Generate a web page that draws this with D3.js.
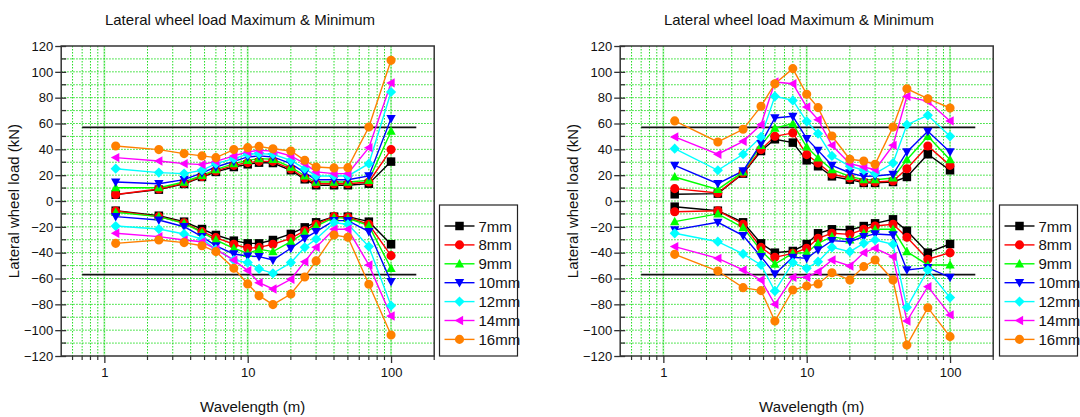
<!DOCTYPE html>
<html><head><meta charset="utf-8">
<script src="https://cdn.jsdelivr.net/npm/d3@7"></script>
<style>body{margin:0;background:#fff;} svg{display:block;font-family:Arial,"Liberation Sans",sans-serif;}</style>
</head><body>
<svg id="c" width="1080" height="417"></svg>
<script>
const wavelengths = [1.2, 2.4, 3.6, 4.8, 6, 8, 10, 12, 15, 20, 25, 30, 40, 50, 70, 100];
const seriesNames = ["7mm", "8mm", "9mm", "10mm", "12mm", "14mm", "16mm"];
const yTicks = [120, 100, 80, 60, 40, 20, 0, -20, -40, -60, -80, -100, -120];
const xTickLabels = [1, 10, 100];
const limitValue = 57;
const limitRange = [0.7, 150];
const chartTitle = "Lateral wheel load Maximum & Minimum";
const xTitle = "Wavelength (m)";
const yTitle = "Lateral wheel load (kN)";

const leftMax = [
  [4.9, 8.8, 13.2, 18.6, 22.5, 26.3, 28.4, 29.7, 29.4, 23.8, 16.8, 12.2, 12.2, 12.2, 13.4, 30.5],
  [5.0, 9.3, 13.7, 19.0, 23.3, 27.6, 29.7, 30.7, 30.7, 24.8, 17.8, 13.4, 13.4, 13.4, 14.7, 39.8],
  [10.3, 10.3, 14.7, 19.9, 24.3, 28.9, 31.5, 32.8, 32.3, 26.3, 19.4, 14.7, 14.7, 14.7, 16.0, 54.0],
  [14.7, 13.4, 16.5, 21.7, 26.3, 30.7, 34.1, 34.9, 34.1, 28.9, 22.0, 16.5, 16.5, 16.5, 19.4, 63.8],
  [25.0, 22.0, 21.2, 23.8, 28.9, 32.8, 36.2, 36.7, 36.2, 31.5, 25.0, 19.4, 19.4, 19.4, 28.9, 84.4],
  [33.6, 31.0, 28.9, 28.2, 30.7, 34.9, 38.0, 39.2, 38.7, 34.9, 28.9, 22.5, 21.2, 21.2, 41.3, 91.4],
  [42.6, 39.8, 36.7, 34.9, 33.6, 39.8, 41.3, 42.3, 40.5, 38.7, 31.5, 26.3, 25.6, 25.8, 57.3, 108.9]
];
const leftMin = [
  [-7.5, -11.4, -16.0, -21.7, -26.3, -30.7, -32.8, -32.8, -30.2, -25.5, -20.4, -16.5, -12.1, -12.1, -16.0, -33.5],
  [-7.7, -12.1, -16.8, -23.7, -28.4, -33.5, -36.6, -35.9, -33.5, -28.9, -23.0, -18.0, -12.1, -12.6, -18.0, -42.3],
  [-8.8, -12.1, -17.3, -24.3, -30.2, -36.6, -40.5, -37.4, -39.2, -31.5, -24.5, -19.4, -12.9, -13.4, -19.1, -52.1],
  [-12.1, -14.7, -19.9, -27.6, -34.8, -41.0, -42.6, -43.1, -45.7, -36.6, -28.9, -23.7, -15.2, -15.2, -23.7, -62.4],
  [-19.4, -21.7, -25.5, -29.4, -37.4, -45.7, -47.7, -52.6, -56.0, -47.7, -35.9, -29.4, -16.8, -18.0, -35.3, -81.0],
  [-25.0, -27.6, -30.2, -31.5, -37.4, -45.7, -53.9, -63.2, -68.1, -60.6, -47.0, -35.9, -21.9, -21.9, -49.5, -89.0],
  [-32.8, -30.2, -32.2, -34.6, -39.2, -52.1, -64.2, -73.3, -80.2, -72.0, -58.8, -46.4, -26.3, -28.1, -64.5, -103.7]
];
const rightMax = [
  [5.2, 5.7, 21.2, 38.7, 47.8, 45.2, 31.5, 26.9, 19.1, 16.5, 14.0, 14.0, 14.7, 18.6, 36.2, 23.8],
  [9.6, 6.2, 21.7, 39.8, 50.1, 52.7, 35.9, 29.4, 20.7, 17.8, 14.7, 14.7, 15.5, 25.0, 42.6, 27.6],
  [18.6, 9.0, 22.5, 43.1, 56.5, 59.9, 41.8, 33.3, 24.3, 19.1, 16.5, 16.5, 17.8, 32.0, 50.1, 32.0],
  [27.6, 13.4, 23.3, 44.4, 64.3, 65.6, 48.3, 39.2, 27.6, 21.7, 19.1, 19.4, 20.7, 38.0, 54.0, 38.0],
  [40.5, 23.8, 36.2, 49.6, 81.0, 77.9, 61.7, 52.1, 34.9, 26.9, 23.8, 21.2, 29.4, 59.1, 66.3, 50.1],
  [49.6, 36.2, 46.2, 59.1, 92.1, 90.8, 72.8, 63.0, 43.1, 28.9, 26.3, 24.3, 43.1, 81.0, 77.2, 62.0],
  [62.0, 45.7, 55.5, 73.3, 90.8, 102.5, 82.6, 72.3, 50.3, 32.3, 31.0, 28.4, 57.3, 86.9, 79.2, 72.0]
];
const rightMin = [
  [-4.4, -7.5, -16.5, -32.8, -40.0, -38.7, -33.3, -25.0, -21.9, -22.4, -19.4, -17.3, -14.2, -23.0, -40.0, -33.3],
  [-8.3, -7.5, -18.0, -35.9, -43.6, -40.5, -36.6, -28.9, -25.0, -25.8, -21.9, -19.4, -18.0, -28.1, -45.1, -40.0],
  [-16.0, -10.0, -20.6, -38.4, -48.8, -40.5, -40.0, -32.8, -27.6, -30.2, -25.0, -21.9, -21.9, -39.2, -49.5, -49.5],
  [-22.4, -16.5, -26.8, -43.1, -56.5, -43.6, -44.4, -37.9, -30.7, -31.5, -27.6, -25.5, -26.3, -53.4, -51.6, -59.1],
  [-25.0, -31.5, -41.0, -49.5, -69.7, -47.7, -52.1, -47.0, -35.9, -39.2, -32.8, -30.2, -33.5, -82.3, -53.4, -74.8],
  [-35.3, -44.4, -53.4, -61.1, -80.0, -59.1, -59.1, -54.7, -45.7, -50.3, -40.0, -36.6, -43.1, -92.9, -66.3, -88.2],
  [-41.3, -54.2, -67.1, -69.4, -92.9, -68.9, -65.8, -64.2, -55.5, -61.1, -50.8, -45.7, -61.1, -111.5, -82.6, -105.0]
];

const colors = ["#000000", "#ff0000", "#00ff00", "#0000ff", "#00ffff", "#ff00ff", "#ff8000"];
const symbols = ["square", "circle", "triUp", "triDown", "diamond", "triLeft", "circle"];

function markerPath(type, s) {
  const h = s / 2;
  switch (type) {
    case "square": return `M${-h},${-h}H${h}V${h}H${-h}Z`;
    case "circle": return d3.symbol(d3.symbolCircle, Math.PI * h * h * 1.15)();
    case "triUp": return `M0,${-h * 1.15}L${h * 1.1},${h * 0.85}L${-h * 1.1},${h * 0.85}Z`;
    case "triDown": return `M0,${h * 1.15}L${h * 1.1},${-h * 0.85}L${-h * 1.1},${-h * 0.85}Z`;
    case "triLeft": return `M${-h * 1.15},0L${h * 0.85},${-h * 1.1}L${h * 0.85},${h * 1.1}Z`;
    case "diamond": return `M0,${-h * 1.2}L${h * 1.2},0L0,${h * 1.2}L${-h * 1.2},0Z`;
  }
}

const svg = d3.select("#c");

function drawPanel(x0, x1, maxData, minData, legendX, titleX) {
  const top = 46, bottom = 356;
  const x = d3.scaleLog().domain([0.5, 200]).range([x0, x1]);
  const y = d3.scaleLinear().domain([-120, 120]).range([bottom, top]);
  const g = svg.append("g");

  // grid
  const minorX = [];
  [0.1, 1, 10, 100].forEach(d => { for (let k = 1; k <= 9; k++) { const v = d * k; if (v > 0.5 && v < 200) minorX.push(v); } });
  const isMajor = v => Math.abs(Math.log10(v) - Math.round(Math.log10(v))) < 1e-9;
  g.selectAll(".gxm").data(minorX.filter(isMajor)).enter().append("line")
    .attr("x1", d => x(d)).attr("x2", d => x(d)).attr("y1", top).attr("y2", bottom)
    .attr("stroke", "#c8f5c8").attr("stroke-width", 2);
  g.selectAll(".gx").data(minorX).enter().append("line")
    .attr("x1", d => x(d)).attr("x2", d => x(d)).attr("y1", top).attr("y2", bottom)
    .attr("stroke", "#22dd22").attr("stroke-width", 1).attr("stroke-dasharray", "1.5,1.5");
  const gy = d3.range(-110, 120, 10);
  g.selectAll(".gy").data(gy).enter().append("line")
    .attr("x1", x0).attr("x2", x1).attr("y1", d => y(d)).attr("y2", d => y(d))
    .attr("stroke", "#22dd22").attr("stroke-width", 1).attr("stroke-dasharray", "1.5,1.5");

  // limit lines
  [limitValue, -limitValue].forEach(v => {
    g.append("line").attr("x1", x(limitRange[0])).attr("x2", x(limitRange[1]))
      .attr("y1", y(v)).attr("y2", y(v)).attr("stroke", "#111").attr("stroke-width", 1.6);
  });

  // frame
  g.append("rect").attr("x", x0).attr("y", top).attr("width", x1 - x0).attr("height", bottom - top)
    .attr("fill", "none").attr("stroke", "#333").attr("stroke-width", 1.5);

  // axes
  const yAxis = d3.axisLeft(y).tickValues(yTicks).tickSize(6).tickPadding(2);
  const ya = g.append("g").attr("transform", `translate(${x0},0)`).call(yAxis);
  ya.select(".domain").remove();
  ya.selectAll("line").attr("x2", -6).attr("x1", 5).attr("stroke", "#333").attr("stroke-width", 1.3);
  ya.selectAll("text").attr("font-size", 13).attr("font-family", "Arial, 'Liberation Sans', sans-serif").attr("fill", "#111");
  g.selectAll(".ymin").data(d3.range(-110, 120, 20)).enter().append("line")
    .attr("x1", x0).attr("x2", x0 + 5).attr("y1", d => y(d)).attr("y2", d => y(d))
    .attr("stroke", "#333").attr("stroke-width", 1.3);

  const xAxis = d3.axisBottom(x).tickValues(xTickLabels).tickFormat(d3.format("d")).tickSize(7).tickPadding(5);
  const xa = g.append("g").attr("transform", `translate(0,${bottom})`).call(xAxis);
  xa.select(".domain").remove();
  xa.selectAll("line").attr("stroke", "#333").attr("stroke-width", 1.3);
  xa.selectAll("text").attr("font-size", 13).attr("font-family", "Arial, 'Liberation Sans', sans-serif").attr("fill", "#111");
  g.selectAll(".xmin").data(minorX.filter(v => !isMajor(v)).concat([200])).enter().append("line")
    .attr("x1", d => x(d)).attr("x2", d => x(d)).attr("y1", bottom).attr("y2", bottom + 4)
    .attr("stroke", "#333").attr("stroke-width", 1.2);

  // series
  const line = d3.line().x((d, i) => x(wavelengths[i])).y(d => y(d));
  [maxData, minData].forEach(data => {
    data.forEach((vals, si) => {
      g.append("path").attr("d", line(vals)).attr("fill", "none")
        .attr("stroke", colors[si]).attr("stroke-width", 1.4);
    });
  });
  [maxData, minData].forEach(data => {
    data.forEach((vals, si) => {
      g.selectAll(null).data(vals).enter().append("path")
        .attr("transform", (d, i) => `translate(${x(wavelengths[i])},${y(d)})`)
        .attr("d", markerPath(symbols[si], 8.5)).attr("fill", colors[si]);
    });
  });

  // titles
  svg.append("text").attr("x", titleX).attr("y", 25).attr("text-anchor", "middle")
    .attr("font-size", 15).attr("fill", "#111").text(chartTitle);
  svg.append("text").attr("x", (x0 + x1) / 2 + 5).attr("y", 412).attr("text-anchor", "middle")
    .attr("font-size", 15).attr("fill", "#111").text(xTitle);
  svg.append("text").attr("transform", `translate(${x0 - 42},${(top + bottom) / 2}) rotate(-90)`)
    .attr("text-anchor", "middle").attr("font-size", 15).attr("fill", "#111").text(yTitle);

  // legend
  const lg = svg.append("g").attr("transform", `translate(${legendX},205)`);
  lg.append("rect").attr("x", 0).attr("y", 0).attr("width", 78).attr("height", 151)
    .attr("fill", "#fff").attr("stroke", "#222").attr("stroke-width", 1.2);
  seriesNames.forEach((name, i) => {
    const cy = 21 + i * 18.9;
    lg.append("line").attr("x1", 5).attr("x2", 35).attr("y1", cy).attr("y2", cy)
      .attr("stroke", colors[i]).attr("stroke-width", 1.4);
    lg.append("path").attr("transform", `translate(20,${cy})`).attr("d", markerPath(symbols[i], 8.5)).attr("fill", colors[i]);
    lg.append("text").attr("x", 39).attr("y", cy + 5.5).attr("font-size", 15).attr("fill", "#111").text(name);
  });
}

drawPanel(61.2, 434.2, leftMax, leftMin, 439.5, 240);
drawPanel(620.2, 993.2, rightMax, rightMin, 999.5, 799);
</script>
</body></html>
